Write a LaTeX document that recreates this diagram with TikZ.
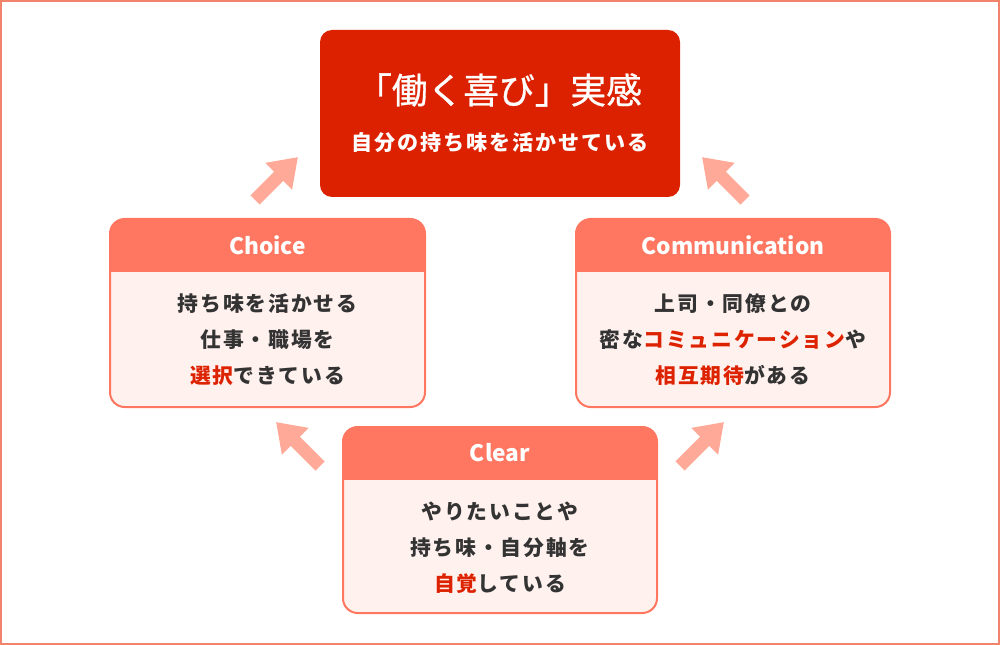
\documentclass[tikz,border=0pt]{standalone}
\usepackage{fontspec}
\setmainfont{Noto Sans CJK JP}
\newfontfamily\jp{Noto Sans CJK JP}[LetterSpace=9]
\newfontfamily\jptitle{Noto Sans CJK JP}[FakeBold=0.9]
\newfontfamily\jphead{Noto Sans CJK JP}
\usetikzlibrary{arrows.meta}
\definecolor{topred}{HTML}{DC2100}
\definecolor{headc}{HTML}{FF7661}
\definecolor{bodyc}{HTML}{FFF1EE}
\definecolor{arrowc}{HTML}{FFA999}
\definecolor{outerc}{HTML}{F3846C}
\definecolor{txtc}{HTML}{333333}
\definecolor{redtxt}{HTML}{DD2200}
\newcommand{\rt}[1]{\textcolor{redtxt}{#1}}
\newcommand{\mycard}[5]{%
  \begin{scope}
    \path[clip, rounded corners=11pt] (#1,#2) rectangle (#3,#4);
    \fill[bodyc] (#1,#2) rectangle (#3,#4);
    \fill[headc] (#1,#2) rectangle (#3,#5);
  \end{scope}
  \draw[headc, line width=1.5pt, rounded corners=11pt] (#1,#2) rectangle (#3,#4);
}
\tikzset{
  fatarrow/.style={draw=arrowc, line width=9.75pt, line cap=butt,
    -{Triangle[length=20.5pt, width=27pt]}},
  headtxt/.style={text=white, font=\jphead\bfseries\fontsize{17}{18}\selectfont, inner sep=0pt},
  bodytxt/.style={text=txtc, align=center, inner sep=0pt,
    font=\jp\bfseries\fontsize{15.6}{27}\selectfont},
}
\begin{document}
\begin{tikzpicture}[x=0.75pt, y=-0.75pt]
\useasboundingbox (0,0) rectangle (1000,645);
\draw[outerc, line width=1.2pt] (0.8,0.8) rectangle (999.2,644.2);

% top box
\fill[topred, rounded corners=9pt] (320,30) rectangle (680,197);
\node[text=white, inner sep=0pt, font=\jptitle\fontsize{26.8}{30}\selectfont] (title) at (499,90) {「働く喜び」実感};
\node[text=white, inner sep=0pt, font=\jp\bfseries\fontsize{15.8}{20}\selectfont] (subtitle) at (500,143) {自分の持ち味を活かせている};

% Choice
\mycard{110}{219}{425}{407}{272}
\node[headtxt] (choiceh) at (267.5,245) {Choice};
\node[bodytxt] (choiceb) at (267.5,340) {持ち味を活かせる\\仕事・職場を\\\rt{選択}できている};

% Communication
\mycard{576}{219}{890}{407}{272}
\node[headtxt] (commh) at (733,245) {Communication};
\node[bodytxt] (commb) at (733,340) {上司・同僚との\\密な\rt{コミュニケーション}や\\\rt{相互期待}がある};

% Clear
\mycard{343}{427}{657}{613}{480}
\node[headtxt] (clearh) at (500,453) {Clear};
\node[bodytxt] (clearb) at (500,548) {やりたいことや\\持ち味・自分軸を\\\rt{自覚}している};

% arrows
\coordinate (a1s) at (255,200); \coordinate (a1e) at (298,157);
\coordinate (a2s) at (745,200); \coordinate (a2e) at (702,157);
\coordinate (a3s) at (320,466); \coordinate (a3e) at (276,422);
\coordinate (a4s) at (680,466); \coordinate (a4e) at (724,422);
\draw[fatarrow] (a1s) -- (a1e);
\draw[fatarrow] (a2s) -- (a2e);
\draw[fatarrow] (a3s) -- (a3e);
\draw[fatarrow] (a4s) -- (a4e);
\end{tikzpicture}
\end{document}
